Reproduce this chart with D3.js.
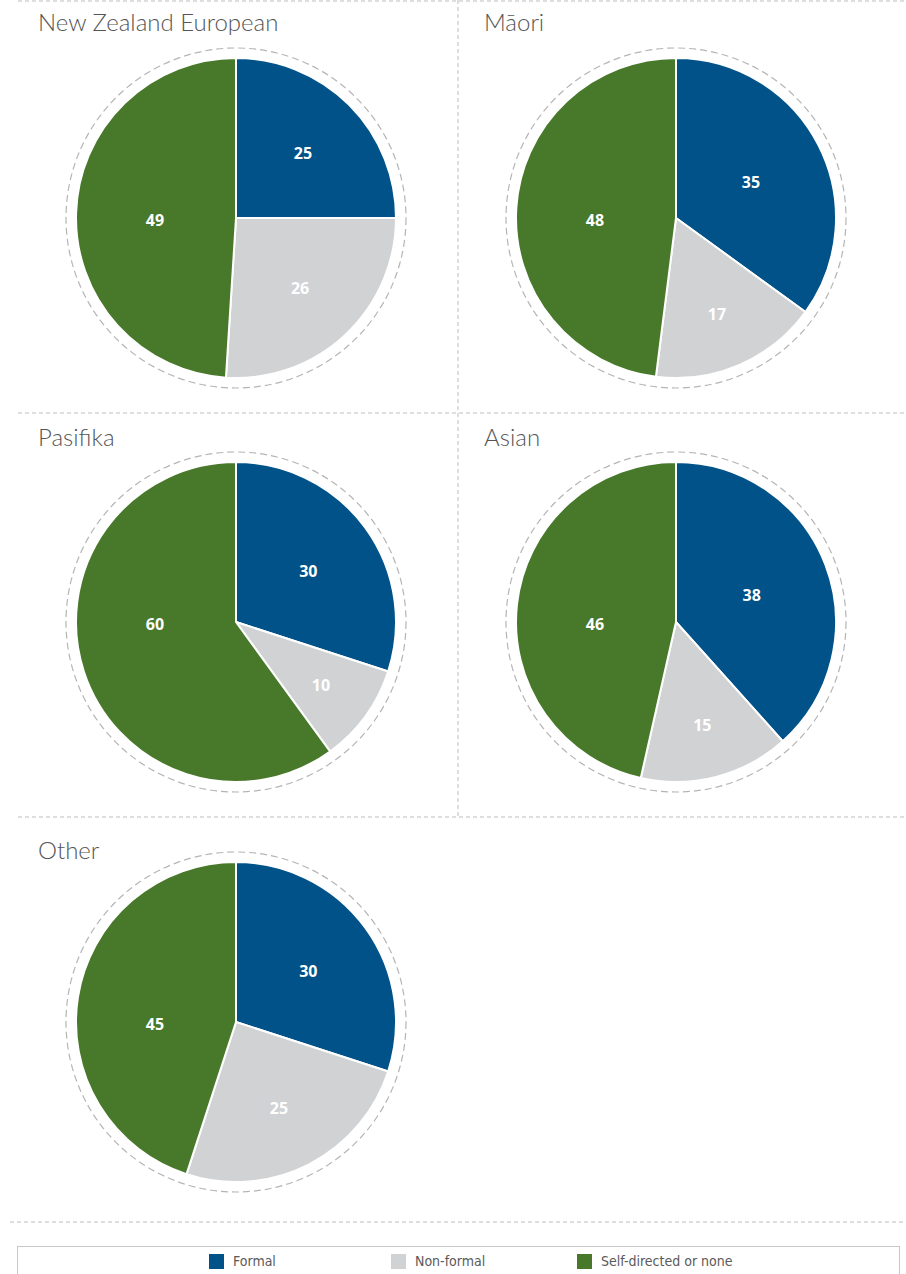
<!DOCTYPE html>
<html>
<head>
<meta charset="utf-8">
<script src="https://cdn.jsdelivr.net/npm/d3@7"></script>
<style>
  body { margin: 0; background: #fff; }
  svg { display: block; }
</style>
</head>
<body>
<div id="chart"></div>
<script>
// data
var groups = ["New Zealand European", "Māori", "Pasifika", "Asian", "Other"];
var categories = ["Formal", "Non-formal", "Self-directed or none"];
var formal = [25, 35, 30, 38, 30];
var nonFormal = [26, 17, 10, 15, 25];
var selfDirected = [49, 48, 60, 46, 45];

var width = 906, height = 1274;
var colors = ["#005288", "#d1d2d4", "#48792a"];

var svg = d3.select("#chart").append("svg")
    .attr("width", width)
    .attr("height", height);

// dashed panel grid
var dashColor = "#bdbdbd";
var gridLines = [
  [18, 1, 906, 1],
  [18, 413, 906, 413],
  [18, 817, 906, 817],
  [10, 1222, 906, 1222],
  [458, 0, 458, 816]
];
svg.append("g").selectAll("line")
  .data(gridLines)
  .enter().append("line")
    .attr("x1", d => d[0]).attr("y1", d => d[1])
    .attr("x2", d => d[2]).attr("y2", d => d[3])
    .attr("stroke", dashColor)
    .attr("stroke-width", 1)
    .attr("stroke-dasharray", "4,3");

var radius = 160;
var centers = [[236, 218], [676, 218], [236, 622], [676, 622], [236, 1022]];
var titlePos = [[38, 31], [484, 31], [38, 446], [484, 446], [38, 859]];

var pie = d3.pie().sort(null).value(d => d.value);
var arc = d3.arc().innerRadius(0).outerRadius(radius);

// label distance shrinks as slice grows (roughly how the original lays them out)
var labelR = d3.scaleLinear().domain([0.15, 0.38]).range([105, 81]).clamp(true);

groups.forEach(function(name, i) {
  var data = [
    {cat: 0, value: formal[i]},
    {cat: 1, value: nonFormal[i]},
    {cat: 2, value: selfDirected[i]}
  ];
  var total = d3.sum(data, d => d.value);
  var c = centers[i];

  var panel = svg.append("g");

  panel.append("text")
    .attr("x", titlePos[i][0])
    .attr("y", titlePos[i][1])
    .attr("font-family", "Lato, 'Open Sans', sans-serif")
    .attr("font-weight", 300)
    .attr("font-size", 24)
    .attr("fill", "#555")
    .text(name);

  var g = panel.append("g").attr("transform", `translate(${c[0]},${c[1]})`);

  g.append("circle")
    .attr("r", radius + 10)
    .attr("fill", "none")
    .attr("stroke", "#b5b5b5")
    .attr("stroke-width", 1.2)
    .attr("stroke-dasharray", "7,4");

  var arcs = pie(data);

  g.selectAll("path")
    .data(arcs)
    .enter().append("path")
      .attr("d", arc)
      .attr("fill", d => colors[d.data.cat])
      .attr("stroke", "#fff")
      .attr("stroke-width", 2);

  g.selectAll("text")
    .data(arcs)
    .enter().append("text")
      .attr("transform", function(d) {
        var frac = d.data.value / total;
        var a = (d.startAngle + d.endAngle) / 2;
        // big slices that wrap the left side get their label at 9 o'clock
        if (frac > 0.4 && d.startAngle < Math.PI * 1.5 && d.endAngle > Math.PI * 1.5) a = Math.PI * 1.5;
        var r = labelR(frac);
        return `translate(${Math.sin(a) * r},${-Math.cos(a) * r + 2})`;
      })
      .attr("text-anchor", "middle")
      .attr("dy", "0.36em")
      .attr("font-family", "'Open Sans', sans-serif")
      .attr("font-weight", 700)
      .attr("font-size", 16)
      .attr("fill", "#fff")
      .text(d => d.data.value);
});

// legend
var legend = svg.append("g");
legend.append("rect")
  .attr("x", 17.5).attr("y", 1246.5)
  .attr("width", 882).attr("height", 40)
  .attr("fill", "none")
  .attr("stroke", "#c8c8c8");

var legendX = [209, 391, 577];
var item = legend.selectAll("g.item")
  .data(categories)
  .enter().append("g")
    .attr("class", "item")
    .attr("transform", (d, i) => `translate(${legendX[i]},1254)`);

item.append("rect")
  .attr("width", 15).attr("height", 15)
  .attr("fill", (d, i) => colors[i]);

item.append("text")
  .attr("x", 24).attr("y", 12)
  .attr("font-family", "'Liberation Sans Narrow', 'DejaVu Sans Condensed', sans-serif")
  .attr("font-size", 14)
  .attr("fill", "#5a5a5a")
  .text(d => d);
</script>
</body>
</html>
